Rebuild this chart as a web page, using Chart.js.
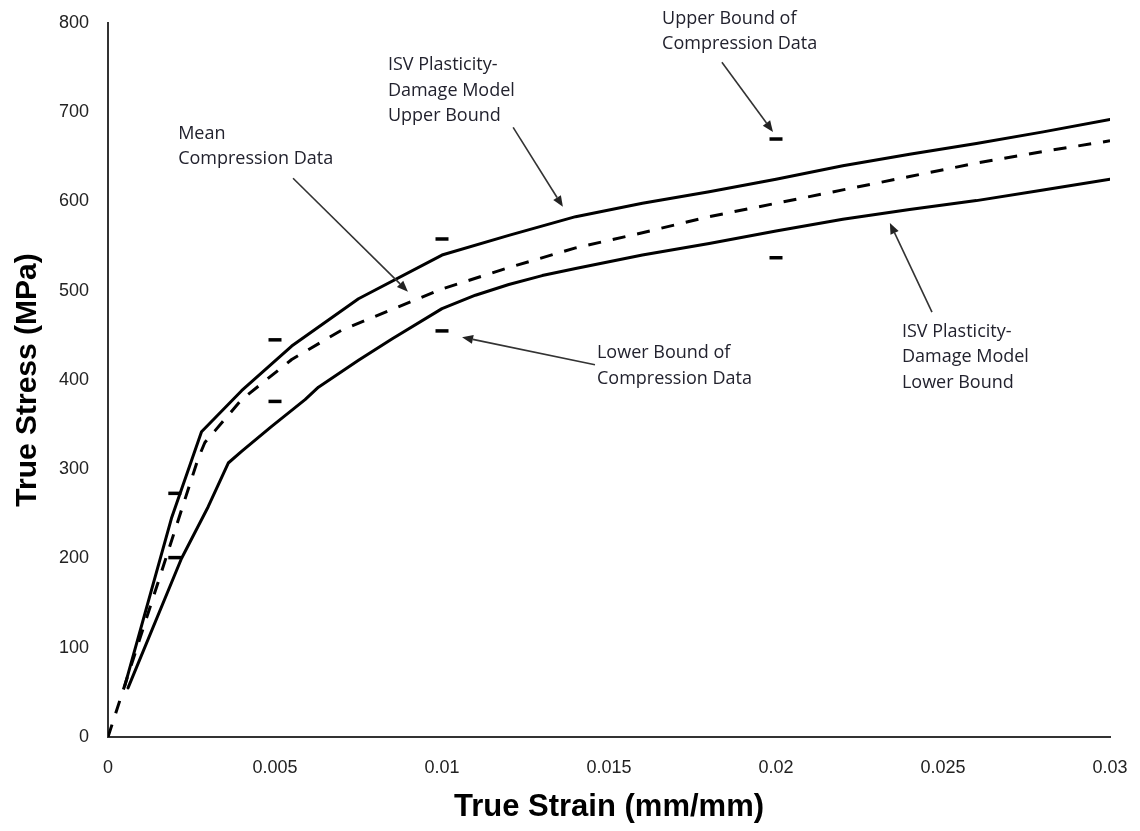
<!DOCTYPE html>
<html>
<head>
<meta charset="utf-8">
<title>True stress vs true strain</title>
<script src="https://cdn.jsdelivr.net/npm/chart.js@4.4.1/dist/chart.umd.min.js"></script>
<style>
  html, body { margin: 0; padding: 0; background: #ffffff; }
  #wrap { width: 1140px; height: 831px; position: relative; }
</style>
</head>
<body>
<div id="wrap"><canvas id="chart" width="1140" height="831"></canvas></div>
<script>
// ISV plasticity-damage model, upper bound (strain mm/mm, stress MPa)
const upperStrain = [0.0005, 0.0019, 0.0028, 0.004, 0.0055, 0.0075, 0.01, 0.012, 0.014, 0.016, 0.018, 0.02, 0.022, 0.024, 0.026, 0.028, 0.03];
const upperStress = [57, 245, 342, 388, 438, 491, 540, 562, 583, 598, 611, 625, 640, 653, 665, 678, 692];

// Mean compression data
const meanStrain = [0, 0.0027, 0.0029, 0.0032, 0.004, 0.0055, 0.007, 0.0085, 0.01, 0.012, 0.014, 0.016, 0.018, 0.02, 0.022, 0.024, 0.026, 0.028, 0.03];
const meanStress = [0, 312, 330, 343, 378, 423, 456, 479, 502, 526, 548, 565, 583, 598, 613, 628, 643, 656, 668];

// ISV plasticity-damage model, lower bound
const lowerStrain = [0.0006, 0.0022, 0.003, 0.0036, 0.004, 0.0049, 0.0059, 0.0063, 0.0075, 0.0085, 0.01, 0.011, 0.012, 0.013, 0.014, 0.016, 0.018, 0.02, 0.022, 0.024, 0.026, 0.028, 0.03];
const lowerStress = [55, 200, 258, 307, 320, 348, 378, 392, 422, 446, 480, 495, 507, 517, 525, 540, 553, 567, 580, 591, 601, 613, 625];

// Scatter of the compression tests: upper and lower bounds at each strain
const boundStrain = [0.002, 0.005, 0.01, 0.02];
const boundUpper = [273, 445, 558, 670];
const boundLower = [201, 376, 455, 537];

// Axis tick labels
const xTickLabels = ['0', '0.005', '0.01', '0.015', '0.02', '0.025', '0.03'];
const yTickLabels = ['0', '100', '200', '300', '400', '500', '600', '700', '800'];

// Callout texts
const calloutTexts = [
  ['Upper Bound of', 'Compression Data'],
  ['ISV Plasticity-', 'Damage Model', 'Upper Bound'],
  ['Mean', 'Compression Data'],
  ['Lower Bound of', 'Compression Data'],
  ['ISV Plasticity-', 'Damage Model', 'Lower Bound']
];

// Callout anchors in data units: text top-left line, arrow tail, arrow head
const calloutPlaces = [
  { tx: 0.01659, ty: 805, x0: 0.01838, y0: 756, x1: 0.01991, y1: 678 },
  { tx: 0.00838, ty: 753, x0: 0.01213, y0: 683, x1: 0.01362, y1: 594 },
  { tx: 0.00210, ty: 676, x0: 0.00554, y0: 626, x1: 0.00898, y1: 499 },
  { tx: 0.01464, ty: 430, x0: 0.01458, y0: 417, x1: 0.01060, y1: 448 },
  { tx: 0.02377, ty: 454, x0: 0.02467, y0: 476, x1: 0.02341, y1: 576 }
];

const toPoints = (xs, ys) => xs.map((x, i) => ({ x: x, y: ys[i] }));

const calloutPlugin = {
  id: 'callouts',
  afterDatasetsDraw(chart) {
    const { ctx, scales } = chart;
    const sx = scales.x, sy = scales.y;
    ctx.save();
    ctx.font = '18px "Open Sans", sans-serif';
    ctx.textAlign = 'left';
    ctx.textBaseline = 'middle';
    calloutPlaces.forEach((p, k) => {
      const tx = sx.getPixelForValue(p.tx);
      const ty = sy.getPixelForValue(p.ty);
      ctx.fillStyle = '#22222e';
      calloutTexts[k].forEach((line, i) => ctx.fillText(line, tx, ty + i * 25.5));

      const ax0 = sx.getPixelForValue(p.x0), ay0 = sy.getPixelForValue(p.y0);
      const ax1 = sx.getPixelForValue(p.x1), ay1 = sy.getPixelForValue(p.y1);
      const ang = Math.atan2(ay1 - ay0, ax1 - ax0);
      const headLen = 11, headHalf = 4.5;
      const bx = ax1 - headLen * Math.cos(ang), by = ay1 - headLen * Math.sin(ang);
      ctx.strokeStyle = '#333333';
      ctx.lineWidth = 1.6;
      ctx.beginPath();
      ctx.moveTo(ax0, ay0);
      ctx.lineTo(bx, by);
      ctx.stroke();
      ctx.fillStyle = '#222222';
      ctx.beginPath();
      ctx.moveTo(ax1, ay1);
      ctx.lineTo(bx + headHalf * Math.sin(ang), by - headHalf * Math.cos(ang));
      ctx.lineTo(bx - headHalf * Math.sin(ang), by + headHalf * Math.cos(ang));
      ctx.closePath();
      ctx.fill();
    });
    ctx.restore();
  }
};

const solidLine = {
  showLine: true, borderColor: '#000000', borderWidth: 3, pointRadius: 0,
  tension: 0, fill: false, borderJoinStyle: 'round', borderCapStyle: 'round'
};
const boundMarks = {
  showLine: false, pointStyle: 'line', pointRadius: 6.5, pointBorderWidth: 3.5,
  borderColor: '#000000', backgroundColor: '#000000', pointHoverRadius: 6.5
};

new Chart(document.getElementById('chart'), {
  type: 'scatter',
  data: {
    datasets: [
      Object.assign({ label: 'ISV Plasticity-Damage Model Upper Bound', data: toPoints(upperStrain, upperStress) }, solidLine),
      Object.assign({ label: 'ISV Plasticity-Damage Model Lower Bound', data: toPoints(lowerStrain, lowerStress) }, solidLine),
      Object.assign({}, solidLine, { label: 'Mean Compression Data', data: toPoints(meanStrain, meanStress), borderDash: [13, 12], borderCapStyle: 'butt' }),
      Object.assign({ label: 'Upper Bound of Compression Data', data: toPoints(boundStrain, boundUpper) }, boundMarks),
      Object.assign({ label: 'Lower Bound of Compression Data', data: toPoints(boundStrain, boundLower) }, boundMarks)
    ]
  },
  options: {
    responsive: false,
    animation: false,
    devicePixelRatio: 1,
    layout: { padding: { top: 23, right: 30, left: 0, bottom: 0 } },
    plugins: { legend: { display: false }, tooltip: { enabled: false } },
    scales: {
      x: {
        type: 'linear', min: 0, max: 0.03,
        afterFit: (s) => { s.height = 94; },
        // tick marks are hidden; their length only spaces the labels off the axis
        grid: { display: false, drawTicks: true, tickLength: 20 },
        border: { display: true, color: '#333333', width: 2 },
        ticks: {
          stepSize: 0.005, padding: 0, color: '#222222', maxRotation: 0,
          font: { family: '"Liberation Sans", Arial, sans-serif', size: 18 },
          callback: (v, i) => xTickLabels[i]
        },
        title: {
          display: true, text: 'True Strain (mm/mm)', color: '#000000',
          font: { family: '"Liberation Sans", Arial, sans-serif', size: 31, weight: 'bold' },
          padding: { top: 0, bottom: 5 }
        }
      },
      y: {
        type: 'linear', min: 0, max: 800,
        afterFit: (s) => { s.width = 108; },
        grid: { display: false, drawTicks: true, tickLength: 19 },
        border: { display: true, color: '#333333', width: 2 },
        ticks: {
          stepSize: 100, padding: 0, color: '#222222',
          font: { family: '"Liberation Sans", Arial, sans-serif', size: 18 },
          callback: (v, i) => yTickLabels[i]
        },
        title: {
          display: true, text: 'True Stress (MPa)', color: '#000000',
          font: { family: '"Liberation Sans", Arial, sans-serif', size: 30, weight: 'bold' },
          padding: { top: 10, bottom: 0 }
        }
      }
    }
  },
  plugins: [calloutPlugin]
});
</script>
</body>
</html>
